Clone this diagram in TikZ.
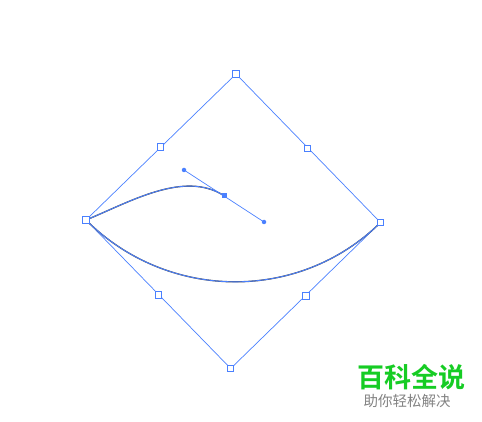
\documentclass[tikz,border=0pt]{standalone}
\usepackage{fontspec}
\newfontfamily\cjk{Noto Sans CJK SC}
\newfontfamily\cjkbold{Noto Sans CJK SC Bold}
\definecolor{selblue}{RGB}{74,128,255}
\definecolor{logogreen}{RGB}{22,204,36}
\definecolor{loggray}{RGB}{130,130,130}
\begin{document}
\begin{tikzpicture}[x=1pt,y=-1pt,
  anchorbox/.style={draw=selblue,fill=white,line width=1pt,minimum size=6.5pt,inner sep=0pt,outer sep=0pt},
  handledot/.style={circle,fill=selblue,minimum size=4.5pt,inner sep=0pt,outer sep=0pt},
  selanchor/.style={fill=selblue,minimum size=5pt,inner sep=0pt,outer sep=0pt},
  guide/.style={draw=selblue,line width=0.7pt},
  pathblack/.style={draw=black!70,line width=1.3pt},
  pathblue/.style={draw=selblue,line width=0.9pt}]
\useasboundingbox (0,0) rectangle (482,422);
% coordinates
\coordinate (T) at (236,74);
\coordinate (R) at (380.5,222.5);
\coordinate (B) at (230.7,368.5);
\coordinate (L) at (86,220);
\coordinate (MTL) at (160.7,146.8);
\coordinate (MTR) at (307.7,148.7);
\coordinate (MBL) at (158.7,295);
\coordinate (MBR) at (306,296);
\coordinate (H1) at (184,170);
\coordinate (A) at (224,195.7);
\coordinate (H2) at (264,222);
% diamond edges
\draw[guide] (L) -- (T) -- (R) -- (B) -- cycle;
% curves
\draw[pathblack] (L) .. controls (130,202) and (H1) .. (A);
\draw[pathblack] (L) .. controls (167,301) and (299,303) .. (R);
\draw[pathblue] (L) .. controls (130,202) and (H1) .. (A);
\draw[pathblue] (L) .. controls (167,301) and (299,303) .. (R);
% handle
\draw[guide] (H1) -- (H2);
% nodes
\node[anchorbox] (nT) at (T) {};
\node[anchorbox] (nR) at (R) {};
\node[anchorbox] (nB) at (B) {};
\node[anchorbox] (nL) at (L) {};
\node[anchorbox] (nMTL) at (MTL) {};
\node[anchorbox] (nMTR) at (MTR) {};
\node[anchorbox] (nMBL) at (MBL) {};
\node[anchorbox] (nMBR) at (MBR) {};
\node[handledot] (nH1) at (H1) {};
\node[handledot] (nH2) at (H2) {};
\node[selanchor] (nA) at (A) {};
% logo
\node[text=logogreen,font=\cjkbold\fontsize{27}{29}\selectfont,inner sep=0pt] (logo) at (411.5,377) {百科全说};
\node[text=loggray,font=\cjk\fontsize{14.5}{16}\selectfont,inner sep=0pt] (slogan) at (407,401) {助你轻松解决};
\end{tikzpicture}
\end{document}
